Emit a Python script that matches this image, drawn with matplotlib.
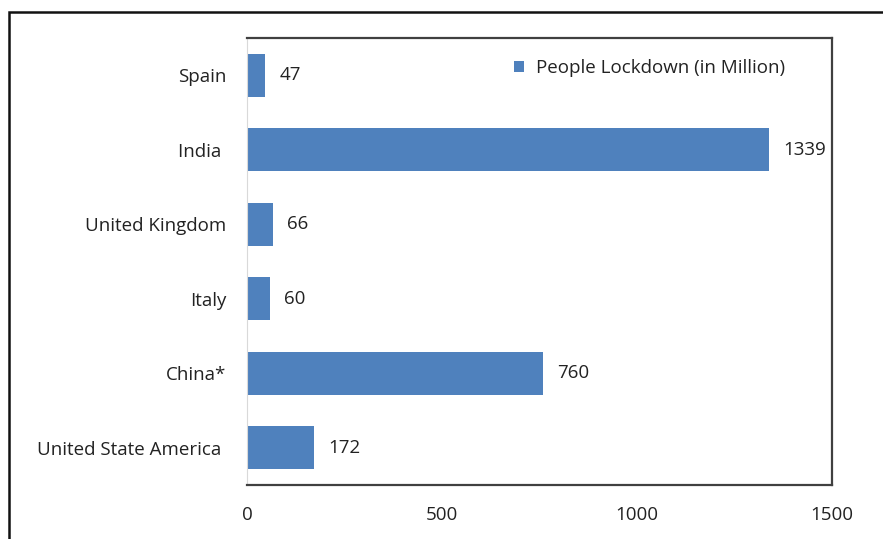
import matplotlib.pyplot as plt
from matplotlib.patches import Rectangle

countries = ['United State America ', 'China*', 'Italy', 'United Kingdom', 'India ', 'Spain']
lockdown = [172, 760, 60, 66, 1339, 47]
xticks = [0, 500, 1000, 1500]

plt.rcParams['font.family'] = ['Open Sans', 'DejaVu Sans']
fs = 13.5

fig = plt.figure(figsize=(8.83, 5.39), dpi=100)
ax = fig.add_axes([247 / 883, 1 - 485 / 539, 585 / 883, 447 / 539])

bars = ax.barh(countries, lockdown, height=0.58, color='#4f81bd',
               label='People Lockdown (in Million)')
ax.bar_label(bars, padding=10, fontsize=fs, color='#222222')

ax.set_xlim(0, 1500)
ax.set_ylim(-0.5, len(countries) - 0.5)
ax.set_xticks(xticks)
ax.tick_params(axis='both', length=0, labelsize=fs, labelcolor='#222222')
ax.tick_params(axis='y', pad=15)
ax.tick_params(axis='x', pad=15)

# spines: light left axis, dark frame elsewhere
ax.spines['left'].set_color('#d9d9d9')
for s in ['top', 'right', 'bottom']:
    ax.spines[s].set_color('#404040')
    ax.spines[s].set_linewidth(1.6)

ax.legend(loc='upper right', bbox_to_anchor=(0.948, 0.99), frameon=False,
          fontsize=fs, handlelength=0.55, handleheight=0.55, handletextpad=0.6,
          labelcolor='#222222')

# outer chart frame (cropped on the right and bottom)
fig.patches.append(Rectangle((9 / 883, -0.1), 2, 1 - 12 / 539 + 0.1,
                             transform=fig.transFigure, fill=False,
                             edgecolor='#111111', linewidth=1.8))

fig.savefig('out.png', dpi=100)
